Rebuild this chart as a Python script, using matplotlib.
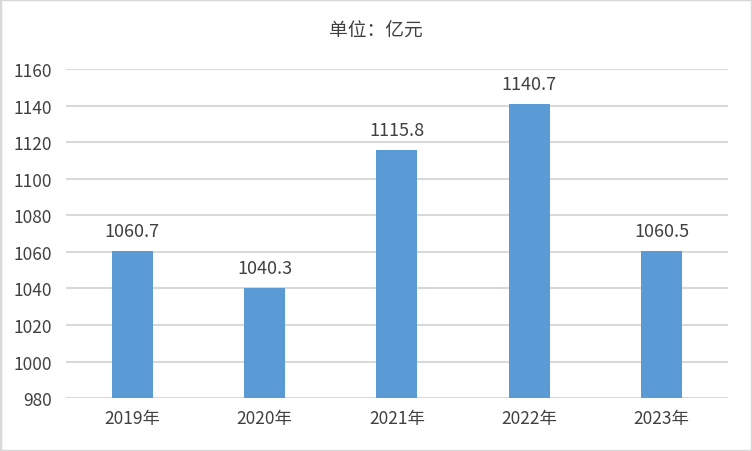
import matplotlib
matplotlib.use("Agg")
import matplotlib.pyplot as plt
from matplotlib.patches import Rectangle

plt.rcParams['font.family'] = ['Noto Sans CJK SC', 'DejaVu Sans']

categories = ["2019年", "2020年", "2021年", "2022年", "2023年"]
values = [1060.7, 1040.3, 1115.8, 1140.7, 1060.5]
yticks = [980, 1000, 1020, 1040, 1060, 1080, 1100, 1120, 1140, 1160]
title = "单位：亿元"

text_color = "#404040"
bar_color = "#5B9BD5"

fig = plt.figure(figsize=(7.52, 4.52), dpi=100)
ax = fig.add_axes([0.0878, 0.117, 0.880, 0.728])

x = list(range(len(categories)))
ax.bar(x, [v - 980 for v in values], bottom=980, width=0.31, color=bar_color, zorder=3)
for xi, v in zip(x, values):
    ax.text(xi, v + 6, f"{v:.1f}", ha="center", va="bottom", fontsize=13, color=text_color)

ax.set_xlim(-0.5, len(categories) - 0.5)
ax.set_ylim(980, 1160)
ax.set_yticks(yticks)
ax.set_yticklabels([str(t) for t in yticks], fontsize=12.5, color=text_color)
ax.set_xticks(x)
ax.set_xticklabels(categories, fontsize=12.5, color=text_color)
ax.tick_params(axis='both', length=0)
ax.tick_params(axis='y', pad=10)
ax.tick_params(axis='x', pad=8)
ax.grid(axis='y', color="#d9d9d9", linewidth=1.5, zorder=0)
for s in ax.spines.values():
    s.set_visible(False)

fig.text(0.5, 0.932, title, ha="center", va="center", fontsize=13.5, color=text_color)

fig.patches.append(Rectangle((0, 0), 1, 1, transform=fig.transFigure, fill=False,
                             edgecolor="#d9d9d9", linewidth=2.5))

fig.savefig("out.png", dpi=100)
